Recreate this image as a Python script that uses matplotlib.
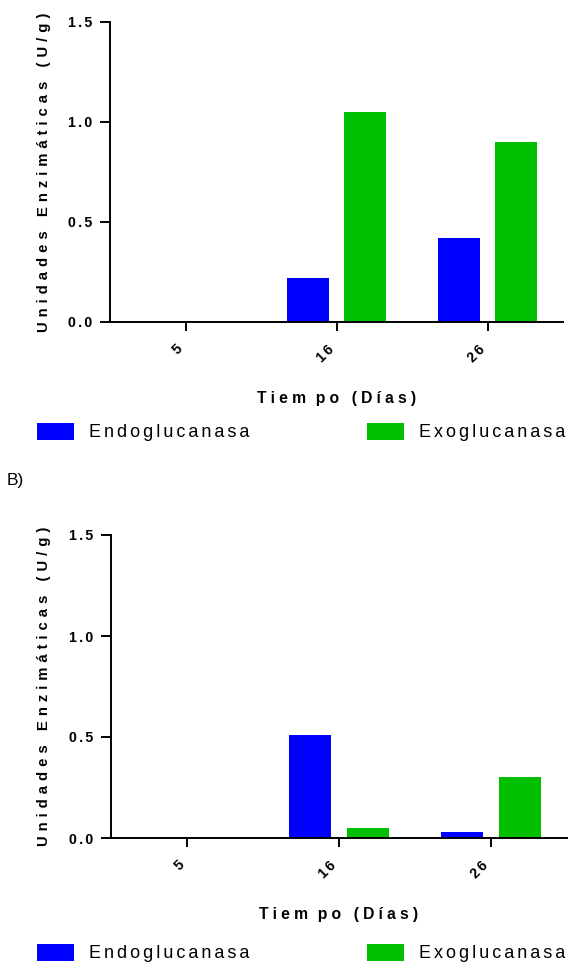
import matplotlib
matplotlib.use("Agg")
import matplotlib.pyplot as plt
import numpy as np

plt.rcParams['font.family'] = ['Liberation Sans', 'DejaVu Sans']

days = ["5", "16", "26"]
series_names = ["Endoglucanasa", "Exoglucanasa"]
endo_A = [0.0, 0.22, 0.42]
exo_A = [0.0, 1.05, 0.90]
endo_B = [0.0, 0.51, 0.03]
exo_B = [0.0, 0.05, 0.30]
y_ticks = [0.0, 0.5, 1.0, 1.5]
ylabel = "Unidades Enzimáticas (U/g)"
xlabel = "Tiempo (Días)"

BLUE = "#0000FF"
GREEN = "#00BE00"
HS = "\u200a"


def sp(s, n=4):
    return (HS * n).join(list(s))


fig = plt.figure(figsize=(5.68, 9.64), dpi=100)
W, H = 568, 964


def make_ax(l, r, t, b):
    return fig.add_axes([l / W, 1 - b / H, (r - l) / W, (b - t) / H]), (l, r, t, b)


def draw(axinfo, endo, exo, leg_y, xlab_y):
    ax, (l, r, t, b) = axinfo
    x = np.arange(len(days))
    w = 0.28
    off = 0.19
    b1 = ax.bar(x - off, endo, w, color=BLUE, label=sp(series_names[0], 2))
    b2 = ax.bar(x + off, exo, w, color=GREEN, label=sp(series_names[1], 2))
    ax.set_xlim(-0.5, 2.5)
    ax.set_ylim(0, 1.5)
    ax.set_yticks(y_ticks)
    ax.set_yticklabels([sp(f"{v:.1f}", 2) for v in y_ticks], fontsize=10.2, fontweight='bold')
    ax.set_xticks(x)
    ax.set_xticklabels([sp(d, 2) for d in days], rotation=45, ha='right', fontsize=10.2, fontweight='bold')
    for s in ['top', 'right']:
        ax.spines[s].set_visible(False)
    for s in ['left', 'bottom']:
        ax.spines[s].set_linewidth(1.4)
    ax.tick_params(axis='y', length=7.5, width=1.4, pad=5)
    ax.tick_params(axis='x', length=6.5, width=1.4, pad=8)
    ax.set_ylabel(sp(ylabel, 4), fontsize=10.7, fontweight='bold', va='center')
    ax.yaxis.set_label_coords((44.5 - l) / (r - l), 0.5)
    xl = sp(xlabel, 3).replace("m" + HS * 3 + "p", "m" + HS * 7 + "p")
    ax.set_xlabel(xl, fontsize=11.3, fontweight='bold', va='center')
    ax.xaxis.set_label_coords(0.5, (b - xlab_y) / (b - t))
    for h, xp in zip([b1, b2], [37, 367]):
        fig.legend(handles=[h], loc='center left', bbox_to_anchor=(xp / W, 1 - leg_y / H),
                   frameon=False, fontsize=13, handlelength=2.05, handleheight=1.08,
                   handletextpad=0.85, borderpad=0, borderaxespad=0)
    return ax


draw(make_ax(110, 563, 22, 322), endo_A, exo_A, 432, 399)
draw(make_ax(111, 567, 535, 838), endo_B, exo_B, 953, 914)

fig.text(7 / W, 1 - 481 / H, "B)", fontsize=12.5, va='center', ha='left')

fig.savefig("out.png", dpi=100)
